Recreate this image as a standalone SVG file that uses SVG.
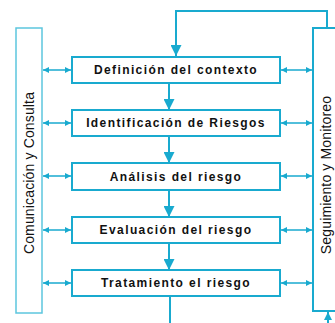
<svg xmlns="http://www.w3.org/2000/svg" width="335" height="323" viewBox="0 0 335 323">
<defs>
<style>
.box{fill:#fff;stroke:#19aacf;stroke-width:2}
.side{fill:#fff;stroke:#5cc6de;stroke-width:1.5}
.sideR{fill:#fff;stroke:#19aacf;stroke-width:2}
.lbl{font-family:"Liberation Sans",Arial,sans-serif;font-weight:bold;font-size:12px;letter-spacing:1.4px;fill:#111;text-anchor:middle}
.vlbl{font-family:"Liberation Sans",Arial,sans-serif;font-size:14px;letter-spacing:0.15px;fill:#111;text-anchor:middle}
.ln{fill:none;stroke:#19aacf;stroke-width:2}
.dbl{fill:none;stroke:#19aacf;stroke-width:1.5;marker-start:url(#sm);marker-end:url(#sm)}
</style>
<marker id="big" viewBox="0 0 10 10" refX="10" refY="5" markerWidth="5.5" markerHeight="5.5" markerUnits="strokeWidth" orient="auto">
<path d="M0,0 L10,5 L0,10 Z" fill="#19aacf"/>
</marker>
<marker id="sm" viewBox="0 0 10 10" refX="10" refY="5" markerWidth="4" markerHeight="4" markerUnits="strokeWidth" orient="auto-start-reverse">
<path d="M0,0 L10,5 L0,10 Z" fill="#19aacf"/>
</marker>
</defs>
<g id="connectors">
<path class="ln" d="M327,28 V11 H176 V56" marker-end="url(#big)"/>
<path class="ln" d="M169,84 V110" marker-end="url(#big)"/>
<path class="ln" d="M169,137 V163" marker-end="url(#big)"/>
<path class="ln" d="M169,191 V217" marker-end="url(#big)"/>
<path class="ln" d="M169,244 V270" marker-end="url(#big)"/>
<path class="ln" d="M170,297 V323"/>
<path class="ln" d="M328,323 V312" marker-end="url(#sm)"/>
<path class="dbl" d="M43,70 H71"/>
<path class="dbl" d="M43,123 H71"/>
<path class="dbl" d="M43,176 H71"/>
<path class="dbl" d="M43,230 H71"/>
<path class="dbl" d="M43,283 H71"/>
<path class="dbl" d="M281,70 H312"/>
<path class="dbl" d="M281,123 H312"/>
<path class="dbl" d="M281,176 H312"/>
<path class="dbl" d="M281,230 H312"/>
<path class="dbl" d="M281,283 H312"/>
</g>
<g id="comunicacion">
<rect class="side" x="16" y="28" width="26" height="285"/>
<text class="vlbl" transform="translate(34,173) rotate(-90)">Comunicación y Consulta</text>
</g>
<g id="seguimiento">
<rect class="sideR" x="313" y="28" width="30" height="283"/>
<text class="vlbl" transform="translate(331,175) rotate(-90)">Seguimiento y Monitoreo</text>
</g>
<g id="definicion">
<rect class="box" x="72" y="57" width="208" height="26"/>
<text class="lbl" x="176" y="74">Definición del contexto</text>
</g>
<g id="identificacion">
<rect class="box" x="72" y="110" width="208" height="26"/>
<text class="lbl" x="176" y="127">Identificación de Riesgos</text>
</g>
<g id="analisis">
<rect class="box" x="72" y="163" width="208" height="27"/>
<text class="lbl" x="176" y="181">Análisis del riesgo</text>
</g>
<g id="evaluacion">
<rect class="box" x="72" y="217" width="208" height="26"/>
<text class="lbl" x="176" y="234">Evaluación del riesgo</text>
</g>
<g id="tratamiento">
<rect class="box" x="72" y="270" width="208" height="26"/>
<text class="lbl" x="176" y="287">Tratamiento el riesgo</text>
</g>
</svg>
